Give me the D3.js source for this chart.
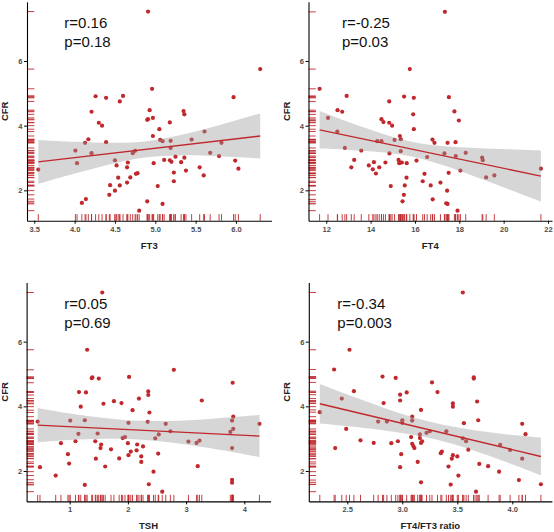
<!DOCTYPE html>
<html>
<head>
<meta charset="utf-8">
<script src="https://cdn.jsdelivr.net/npm/d3@7"></script>
<style>
    body { margin: 0; background: #fff; }
    svg { display: block; font-family: "Liberation Sans", Arial, sans-serif; }
</style>
</head>
<body>
<div id="chart_parent"></div>
<script>
// CFR against each thyroid measure
const ft3Points = [
    [3.55, 2.64], [4.01, 3.23], [4.03, 2.84], [4.09, 1.61], [4.14, 1.73], [4.13, 3.47], [4.17, 3.58],
    [4.21, 4.43], [4.21, 3.15], [4.26, 4.91], [4.30, 4.09], [4.34, 4.00], [4.39, 4.86], [4.39, 3.49],
    [4.43, 1.86], [4.44, 2.16], [4.50, 1.99], [4.50, 2.93], [4.52, 2.77], [4.54, 2.39], [4.56, 2.15],
    [4.56, 4.75], [4.60, 4.92], [4.65, 2.24], [4.65, 2.71], [4.66, 2.86], [4.69, 2.40], [4.72, 3.15],
    [4.75, 3.22], [4.76, 2.51], [4.78, 2.53], [4.80, 1.37], [4.90, 1.66], [4.90, 4.18], [4.91, 4.20],
    [4.91, 7.53], [4.93, 4.48], [4.96, 5.14], [4.97, 4.24], [4.97, 3.68], [4.98, 2.84], [5.03, 2.13],
    [5.05, 3.89], [5.06, 3.56], [5.09, 3.52], [5.09, 1.58], [5.11, 2.94], [5.18, 4.10], [5.18, 2.93],
    [5.19, 3.53], [5.20, 2.88], [5.19, 3.31], [5.23, 2.55], [5.23, 2.28], [5.25, 3.04], [5.32, 2.87],
    [5.35, 4.45], [5.36, 4.35], [5.36, 3.01], [5.38, 2.61], [5.45, 3.57], [5.55, 2.71], [5.60, 2.46],
    [5.61, 3.82], [5.68, 3.16], [5.79, 3.06], [5.82, 3.47], [5.97, 4.88], [5.99, 2.92], [6.03, 2.67],
    [6.30, 5.75],
];

const ft4Points = [
    [11.70, 5.14], [12.08, 4.24], [12.50, 3.82], [12.51, 4.48], [12.72, 4.43], [12.84, 3.31], [12.92, 4.92],
    [13.13, 2.71], [13.26, 2.94], [13.58, 3.23], [13.92, 2.77], [14.10, 2.65], [14.15, 2.87], [14.24, 2.52],
    [14.30, 3.52], [14.39, 2.71], [14.49, 3.52], [14.49, 4.20], [14.58, 4.11], [14.67, 2.86], [14.84, 4.75],
    [14.84, 4.09], [14.85, 3.14], [14.91, 2.13], [14.97, 4.00], [15.08, 3.56], [15.26, 2.94], [15.29, 2.84],
    [15.32, 3.68], [15.35, 2.86], [15.36, 3.58], [15.36, 3.21], [15.41, 2.86], [15.44, 1.66], [15.50, 1.86],
    [15.51, 4.90], [15.54, 2.15], [15.62, 2.39], [15.63, 2.84], [15.77, 5.75], [15.92, 4.35], [15.95, 4.86],
    [15.95, 3.89], [16.07, 2.92], [16.35, 2.28], [16.43, 2.51], [16.55, 3.03], [16.71, 2.15], [16.79, 3.57],
    [16.80, 1.72], [16.88, 3.47], [17.15, 2.24], [17.33, 3.14], [17.35, 7.52], [17.41, 1.60], [17.45, 1.99],
    [17.47, 3.47], [17.47, 1.58], [17.52, 2.54], [17.53, 4.88], [17.78, 4.44], [17.83, 3.49], [17.84, 3.06],
    [17.92, 1.37], [17.98, 4.16], [18.05, 2.61], [18.29, 3.16], [19.03, 3.01], [19.06, 2.93], [19.21, 2.40],
    [19.58, 2.46], [21.68, 2.67],
];

const tshPoints = [
    [0.45, 3.53], [0.49, 2.12], [0.76, 1.86], [0.85, 2.86], [0.97, 2.52], [0.99, 2.23], [1.01, 3.56],
    [1.10, 2.92], [1.15, 3.15], [1.16, 4.44], [1.19, 3.99], [1.26, 1.57], [1.26, 3.57], [1.28, 4.43],
    [1.30, 5.75], [1.38, 4.87], [1.39, 4.90], [1.44, 2.92], [1.45, 2.38], [1.48, 3.16], [1.50, 4.86],
    [1.53, 2.71], [1.54, 2.82], [1.56, 7.52], [1.58, 4.08], [1.61, 2.14], [1.71, 2.67], [1.76, 4.16],
    [1.85, 2.39], [1.89, 4.10], [1.91, 3.02], [1.95, 3.05], [2.00, 2.86], [2.01, 3.49], [2.01, 2.49],
    [2.02, 4.91], [2.05, 2.60], [2.08, 3.88], [2.15, 2.64], [2.16, 2.82], [2.19, 4.24], [2.23, 2.45],
    [2.23, 2.28], [2.26, 2.76], [2.34, 3.52], [2.35, 4.46], [2.35, 4.35], [2.36, 1.59], [2.37, 3.81],
    [2.44, 1.98], [2.47, 3.01], [2.53, 3.13], [2.52, 2.54], [2.59, 1.36], [2.65, 3.46], [2.73, 3.23],
    [2.79, 5.13], [3.04, 2.91], [3.18, 2.87], [3.20, 2.15], [3.23, 2.94], [3.27, 4.18], [3.76, 3.21],
    [3.79, 2.71], [3.79, 3.56], [3.80, 4.73], [3.81, 3.68], [3.81, 3.30], [3.79, 1.73], [3.79, 1.64],
    [4.26, 3.46],
];

const ratioPoints = [
    [2.25, 3.82], [2.38, 5.14], [2.39, 2.71], [2.45, 4.24], [2.49, 3.30], [2.52, 5.75], [2.56, 4.47],
    [2.62, 2.95], [2.74, 2.87], [2.78, 3.53], [2.82, 4.92], [2.83, 4.10], [2.86, 3.53], [2.90, 2.86],
    [2.94, 4.88], [2.96, 2.92], [2.98, 4.18], [2.98, 2.12], [2.98, 4.36], [2.99, 2.52], [3.00, 3.57],
    [3.00, 3.49], [3.04, 4.43], [3.08, 3.05], [3.09, 2.84], [3.09, 3.56], [3.09, 3.68], [3.10, 2.77],
    [3.11, 2.71], [3.14, 2.28], [3.16, 3.02], [3.16, 3.13], [3.17, 3.89], [3.17, 2.87], [3.17, 1.65],
    [3.18, 2.92], [3.22, 3.18], [3.25, 3.23], [3.27, 4.74], [3.32, 4.44], [3.35, 2.55], [3.36, 2.60],
    [3.40, 3.23], [3.42, 2.14], [3.44, 1.58], [3.45, 2.38], [3.46, 2.49], [3.46, 4.09], [3.46, 3.99],
    [3.50, 2.45], [3.51, 1.86], [3.55, 7.52], [3.55, 3.01], [3.56, 3.48], [3.58, 2.92], [3.60, 2.66],
    [3.65, 4.86], [3.65, 4.90], [3.67, 1.36], [3.68, 4.15], [3.69, 3.57], [3.70, 2.22], [3.78, 2.15],
    [3.88, 1.98], [3.89, 2.81], [3.98, 2.65], [4.06, 1.72], [4.09, 3.46], [4.09, 2.38], [4.12, 3.14],
    [4.26, 1.59],
];

// fitted lines and their confidence bands, as drawn in the figure
const ft3Fit = [[3.55, 2.88], [6.30, 3.68]];
const ft3BandX = [3.55, 4.0, 4.5, 4.9, 5.3, 5.8, 6.30];
const ft3BandLo = [2.20, 2.52, 2.84, 3.02, 3.08, 3.05, 2.98];
const ft3BandHi = [3.56, 3.50, 3.47, 3.52, 3.70, 4.02, 4.38];

const ft4Fit = [[11.70, 3.87], [21.68, 2.44]];
const ft4BandX = [11.70, 13.0, 14.5, 15.8, 17.2, 19.0, 21.68];
const ft4BandLo = [3.29, 3.25, 3.18, 3.05, 2.79, 2.35, 1.65];
const ft4BandHi = [4.45, 4.11, 3.76, 3.51, 3.37, 3.30, 3.23];

const tshFit = [[0.45, 3.42], [4.26, 3.08]];
const tshBandX = [0.45, 1.0, 1.6, 2.1, 2.7, 3.4, 4.26];
const tshBandLo = [2.89, 2.96, 3.00, 2.98, 2.89, 2.71, 2.43];
const tshBandHi = [3.95, 3.78, 3.64, 3.56, 3.55, 3.61, 3.73];

const ratioFit = [[2.25, 4.08], [4.26, 2.45]];
const ratioBandX = [2.25, 2.6, 2.95, 3.29, 3.6, 3.95, 4.26];
const ratioBandLo = [3.47, 3.35, 3.20, 2.99, 2.69, 2.27, 1.87];
const ratioBandHi = [4.69, 4.24, 3.82, 3.49, 3.29, 3.13, 3.03];

const ft3Ticks = [3.5, 4.0, 4.5, 5.0, 5.5, 6.0];
const ft4Ticks = [12, 14, 16, 18, 20, 22];
const tshTicks = [1, 2, 3, 4];
const ratioTicks = [2.5, 3.0, 3.5, 4.0];
const cfrTicks = [2, 4, 6];

const xTitles = ['FT3', 'FT4', 'TSH', 'FT4/FT3 ratio'];
const rLabels = ['r=0.16', 'r=-0.25', 'r=0.05', 'r=-0.34'];
const pLabels = ['p=0.18', 'p=0.03', 'p=0.69', 'p=0.003'];

const chartConfig = {
    width: 554,
    height: 532,
    yDomain: [1.06, 7.83],
    red: '#c0282d',
    rugLength: 0.03,
};

function bandRows(xs, lo, hi) {
    return xs.map((x, i) => ({ x, lo: lo[i], hi: hi[i] }));
}

const panels = [
    { points: ft3Points, fit: ft3Fit, band: bandRows(ft3BandX, ft3BandLo, ft3BandHi),
        xDomain: [3.41, 6.44], ticks: ft3Ticks, fmt: '.1f',
        left: 27, right: 271.5, top: 1.85, bottom: 220.7, statX: 64.3 },
    { points: ft4Points, fit: ft4Fit, band: bandRows(ft4BandX, ft4BandLo, ft4BandHi),
        xDomain: [11.2, 22.18], ticks: ft4Ticks, fmt: 'd',
        left: 308.5, right: 552, top: 1.85, bottom: 220.7, statX: 342 },
    { points: tshPoints, fit: tshFit, band: bandRows(tshBandX, tshBandLo, tshBandHi),
        xDomain: [0.26, 4.45], ticks: tshTicks, fmt: 'd',
        left: 26.6, right: 270.5, top: 282.5, bottom: 501.4, statX: 64.3 },
    { points: ratioPoints, fit: ratioFit, band: bandRows(ratioBandX, ratioBandLo, ratioBandHi),
        xDomain: [2.15, 4.36], ticks: ratioTicks, fmt: '.1f',
        left: 308.8, right: 551.9, top: 282.5, bottom: 501.4, statX: 337.3 },
];

const svg = d3.select('#chart_parent').append('svg')
    .attr('width', chartConfig.width)
    .attr('height', chartConfig.height);

function styleAxis(axisGroup) {
    axisGroup.attr('font-family', null).attr('font-size', null);
    axisGroup.select('.domain').attr('stroke', '#000').attr('stroke-width', 1.1);
    axisGroup.selectAll('.tick line').attr('stroke', '#000').attr('stroke-width', 1);
    axisGroup.selectAll('.tick text')
        .attr('font-size', 7.5)
        .attr('font-weight', 'bold')
        .attr('fill', '#4d4d4d');
}

function drawPanel(p, i) {
    const g = svg.append('g');

    const xScale = d3.scaleLinear().domain(p.xDomain).range([p.left, p.right]);
    const yScale = d3.scaleLinear().domain(chartConfig.yDomain).range([p.bottom, p.top]);

    const rugX = (p.bottom - p.top) * chartConfig.rugLength;
    const rugY = (p.right - p.left) * chartConfig.rugLength;

    // rugs along both axes
    g.append('g').selectAll('line')
        .data(p.points)
        .join('line')
        .attr('x1', d => xScale(d[0]))
        .attr('x2', d => xScale(d[0]))
        .attr('y1', p.bottom)
        .attr('y2', p.bottom - rugX)
        .attr('stroke', chartConfig.red)
        .attr('stroke-width', 0.9);

    g.append('g').selectAll('line')
        .data(p.points)
        .join('line')
        .attr('x1', p.left)
        .attr('x2', p.left + rugY)
        .attr('y1', d => yScale(d[1]))
        .attr('y2', d => yScale(d[1]))
        .attr('stroke', chartConfig.red)
        .attr('stroke-width', 0.9);

    g.append('g').selectAll('circle')
        .data(p.points)
        .join('circle')
        .attr('cx', d => xScale(d[0]))
        .attr('cy', d => yScale(d[1]))
        .attr('r', 2.1)
        .attr('fill', chartConfig.red);

    const area = d3.area()
        .x(d => xScale(d.x))
        .y0(d => yScale(d.lo))
        .y1(d => yScale(d.hi))
        .curve(d3.curveCatmullRom);

    g.append('path')
        .datum(p.band)
        .attr('d', area)
        .attr('fill', '#999999')
        .attr('fill-opacity', 0.4);

    g.append('path')
        .datum(p.fit)
        .attr('d', d3.line().x(d => xScale(d[0])).y(d => yScale(d[1])))
        .attr('fill', 'none')
        .attr('stroke', chartConfig.red)
        .attr('stroke-width', 1.4);

    const xAxis = d3.axisBottom(xScale)
        .tickValues(p.ticks)
        .tickFormat(d3.format(p.fmt))
        .tickSize(3)
        .tickSizeOuter(0)
        .tickPadding(2.5);
    g.append('g')
        .attr('transform', `translate(0,${p.bottom})`)
        .call(xAxis)
        .call(styleAxis);

    const yAxis = d3.axisLeft(yScale)
        .tickValues(cfrTicks)
        .tickFormat(d3.format('d'))
        .tickSize(3)
        .tickSizeOuter(0)
        .tickPadding(1.5);
    g.append('g')
        .attr('transform', `translate(${p.left},0)`)
        .call(yAxis)
        .call(styleAxis);

    g.append('text')
        .attr('x', (p.left + p.right) / 2)
        .attr('y', p.bottom + 28)
        .attr('text-anchor', 'middle')
        .attr('font-size', 9.5)
        .attr('font-weight', 'bold')
        .attr('fill', '#222')
        .text(xTitles[i]);

    g.append('text')
        .attr('transform', `translate(${p.left - 19},${(p.top + p.bottom) / 2}) rotate(-90)`)
        .attr('text-anchor', 'middle')
        .attr('font-size', 9.5)
        .attr('font-weight', 'bold')
        .attr('fill', '#222')
        .text('CFR');

    g.append('text')
        .attr('x', p.statX)
        .attr('y', p.top + 26.6)
        .attr('font-size', 15)
        .attr('fill', '#111')
        .text(rLabels[i]);

    g.append('text')
        .attr('x', p.statX)
        .attr('y', p.top + 45.4)
        .attr('font-size', 15)
        .attr('fill', '#111')
        .text(pLabels[i]);
}

panels.forEach(drawPanel);
</script>
</body>
</html>
